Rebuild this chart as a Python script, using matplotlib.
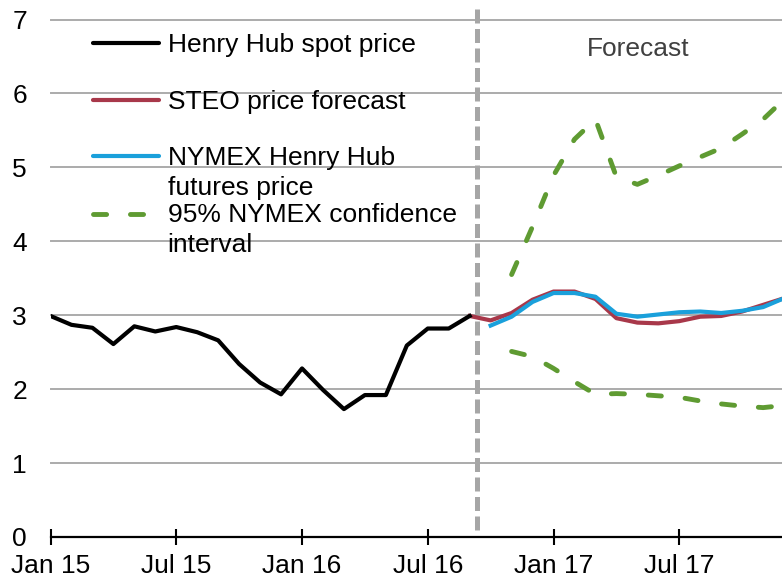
import matplotlib
matplotlib.use('Agg')
import matplotlib.pyplot as plt
from matplotlib.lines import Line2D

plt.rcParams['font.family'] = ['Liberation Sans', 'DejaVu Sans']

# months since Jan 2015 (0 = Jan 15)
tick_pos = [0, 6, 12, 18, 24, 30]
tick_labels = ['Jan 15', 'Jul 15', 'Jan 16', 'Jul 16', 'Jan 17', 'Jul 17']

spot_x = list(range(0, 21))
spot = [2.99, 2.87, 2.83, 2.61, 2.85, 2.78, 2.84, 2.77, 2.66, 2.34, 2.09,
        1.93, 2.28, 1.99, 1.73, 1.92, 1.92, 2.59, 2.82, 2.82, 2.99]

steo_x = list(range(20, 36))
steo = [2.99, 2.93, 3.03, 3.21, 3.32, 3.32, 3.22, 2.96, 2.90, 2.89, 2.92,
        2.98, 2.99, 3.05, 3.14, 3.23]

nymex_x = list(range(21, 36))
nymex = [2.86, 2.98, 3.18, 3.30, 3.30, 3.25, 3.02, 2.98, 3.01, 3.04, 3.05,
         3.03, 3.06, 3.11, 3.23]

ci_x = list(range(22, 36))
ci_upper = [3.55, 4.20, 4.89, 5.38, 5.65, 4.87, 4.77, 4.89, 5.02, 5.14,
            5.26, 5.45, 5.65, 5.92]
ci_lower = [2.51, 2.44, 2.28, 2.10, 1.93, 1.94, 1.93, 1.91, 1.89, 1.84,
            1.80, 1.77, 1.75, 1.78]

forecast_start = 20.37

W, H = 782, 582
c_red = '#a8384a'
c_blue = '#1aa0db'
c_green = '#5f9b32'
c_grid = '#ababab'

fig = plt.figure(figsize=(W / 100, H / 100), dpi=100)
ax = fig.add_axes([50.5 / W, 45 / H, (W - 50.5) / W, 517.5 / H])

ax.set_xlim(0, 34.9)
ax.set_ylim(0, 7)
ax.set_yticks(range(0, 8))
for y in range(1, 8):
    ax.axhline(y, color=c_grid, lw=1.4, zorder=1, clip_on=False)

ax.plot([forecast_start, forecast_start], [0.1, 7.18], color='#a6a6a6',
        lw=3.6, dashes=(2.8, 1.1), clip_on=False, zorder=2)

ax.plot(ci_x, ci_upper, color=c_green, lw=3.5, dashes=(2.7, 4.9),
        dash_capstyle='round', zorder=3)
ax.plot(ci_x, ci_lower, color=c_green, lw=3.5, dashes=(2.7, 4.9),
        dash_capstyle='round', zorder=3)
ax.plot(steo_x, steo, color=c_red, lw=3, zorder=4)
ax.plot(nymex_x, nymex, color=c_blue, lw=3, zorder=5)
ax.plot(spot_x, spot, color='black', lw=3, zorder=6)

for s in ['left', 'right', 'top']:
    ax.spines[s].set_visible(False)
ax.spines['bottom'].set_linewidth(1.6)
ax.spines['bottom'].set_zorder(7)

ax.set_xticks(tick_pos)
ax.set_xticklabels(tick_labels)
ax.tick_params(axis='x', direction='inout', length=11, width=1.5,
               labelsize=19, pad=7)
ax.tick_params(axis='y', length=0, labelsize=19, pad=17)

# legend, drawn by hand so the handles sit on the first text line
def fx(px):
    return px / W

def fy(py):
    return 1 - py / H

entries = [
    (42.7, 'black', None, ['Henry Hub spot price']),
    (99.5, c_red, None, ['STEO price forecast']),
    (156.5, c_blue, None, ['NYMEX Henry Hub', 'futures price']),
    (213.5, c_green, (2.7, 4.9), ['95% NYMEX confidence', 'interval']),
]
for hy, col, dash, lines in entries:
    kw = dict(color=col, lw=3, transform=fig.transFigure, solid_capstyle='round')
    if dash:
        kw.update(dashes=dash, dash_capstyle='round', lw=3.5)
    fig.add_artist(Line2D([fx(93), fx(159)], [fy(hy), fy(hy)], **kw))
    for i, t in enumerate(lines):
        fig.text(fx(167.5), fy(hy + 9 + 30 * i), t, fontsize=19,
                 va='baseline', ha='left', color='black')

fig.text(fx(586.5), fy(56), 'Forecast', fontsize=19, color='#404040',
         va='baseline', ha='left')

fig.savefig('out.png', dpi=100)
